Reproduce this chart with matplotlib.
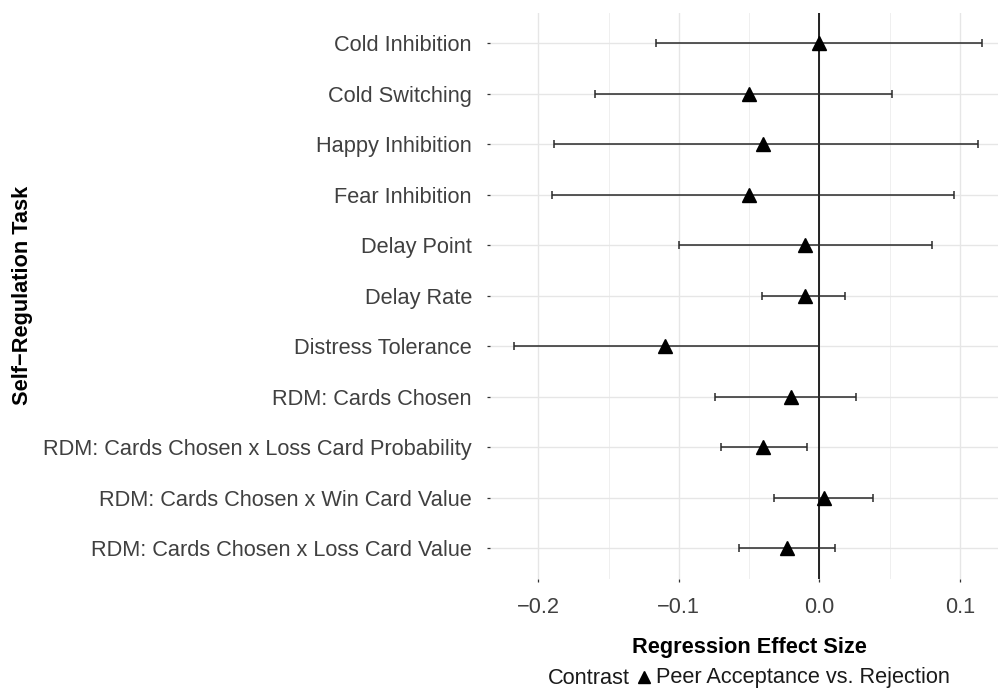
import matplotlib
matplotlib.use("Agg")
import matplotlib.pyplot as plt
from matplotlib.lines import Line2D
import numpy as np

plt.rcParams['font.family'] = ['Liberation Sans', 'DejaVu Sans']

tasks = ["Cold Inhibition", "Cold Switching", "Happy Inhibition", "Fear Inhibition",
         "Delay Point", "Delay Rate", "Distress Tolerance", "RDM: Cards Chosen",
         "RDM: Cards Chosen x Loss Card Probability",
         "RDM: Cards Chosen x Win Card Value",
         "RDM: Cards Chosen x Loss Card Value"]
estimate = [0.000, -0.050, -0.040, -0.050, -0.010, -0.010, -0.110, -0.020, -0.040, 0.003, -0.023]
lower = [-0.116, -0.160, -0.189, -0.190, -0.100, -0.041, -0.217, -0.074, -0.070, -0.032, -0.057]
upper = [0.116, 0.052, 0.113, 0.096, 0.080, 0.018, 0.000, 0.026, -0.009, 0.038, 0.011]
xticks = [-0.2, -0.1, 0.0, 0.1]
minor_xticks = [-0.15, -0.05, 0.05]
legend_title = "Contrast"
legend_label = "Peer Acceptance vs. Rejection"

W, H = 998, 696
fig = plt.figure(figsize=(W / 100, H / 100), dpi=100)
left, right, top, bottom = 490, 998, 12.7, 578.6
ax = fig.add_axes([left / W, 1 - bottom / H, (right - left) / W, (bottom - top) / H])

FS = 15.7
TXT = '#404040'

y = np.arange(len(tasks))
est = np.array(estimate)
lo = np.array(lower)
hi = np.array(upper)

ax.axvline(0, color='black', lw=1.2, zorder=2)
ax.errorbar(est, y, xerr=[est - lo, hi - est], fmt='none', ecolor='#2a2a2a',
            elinewidth=1.1, capsize=3.0, capthick=1.1, zorder=3)
ax.plot(est, y, linestyle='none', marker='^', color='black', markersize=9.5, zorder=4)

ax.set_xlim(-0.2344, 0.1272)
ax.set_ylim(len(tasks) - 1 + 0.6, -0.6)
ax.set_yticks(y)
ax.set_yticklabels(tasks)
ax.set_xticks(xticks)
ax.set_xticklabels([f"{v:.1f}".replace('-', '\u2212') for v in xticks])
ax.set_xticks(minor_xticks, minor=True)

ax.grid(True, which='major', color='#E6E6E6', lw=1.0, zorder=0)
ax.grid(True, which='minor', axis='x', color='#EFEFEF', lw=0.7, zorder=0)
for s in ax.spines.values():
    s.set_visible(False)
ax.tick_params(axis='both', which='major', length=2.0, width=0.9, color='#333333',
               labelsize=FS, labelcolor=TXT, direction='out')
ax.tick_params(axis='y', pad=11)
ax.tick_params(axis='x', pad=11.5)
ax.tick_params(which='minor', length=0)

fig.text(749 / W, 1 - 647 / H, "Regression Effect Size", ha='center', va='center',
         fontsize=FS, fontweight='bold', color='black')
fig.text(23 / W, 1 - 295.6 / H, "Self\u2212Regulation Task", ha='center', va='center',
         rotation=90, fontsize=FS, fontweight='bold', color='black')

# legend: "Contrast ▲ Peer Acceptance vs. Rejection" centred under the panel
fig.canvas.draw()
r = fig.canvas.get_renderer()
ly = 1 - 678 / H
t1 = fig.text(0, ly, legend_title, ha='left', va='center', fontsize=FS, color='#1a1a1a')
t2 = fig.text(0, ly, legend_label, ha='left', va='center', fontsize=FS, color='#1a1a1a')
w1 = t1.get_window_extent(r).width
w2 = t2.get_window_extent(r).width
gap1, tri, gap2 = 8, 12, 6
total = w1 + gap1 + tri + gap2 + w2
x0 = 749 - total / 2
t1.set_x(x0 / W)
t2.set_x((x0 + w1 + gap1 + tri + gap2) / W)
fig.add_artist(Line2D([(x0 + w1 + gap1 + tri / 2) / W], [ly + 1 / H], marker='^',
                      color='black', markersize=8.5, linestyle='none',
                      transform=fig.transFigure))

fig.savefig("out.png", dpi=100)
